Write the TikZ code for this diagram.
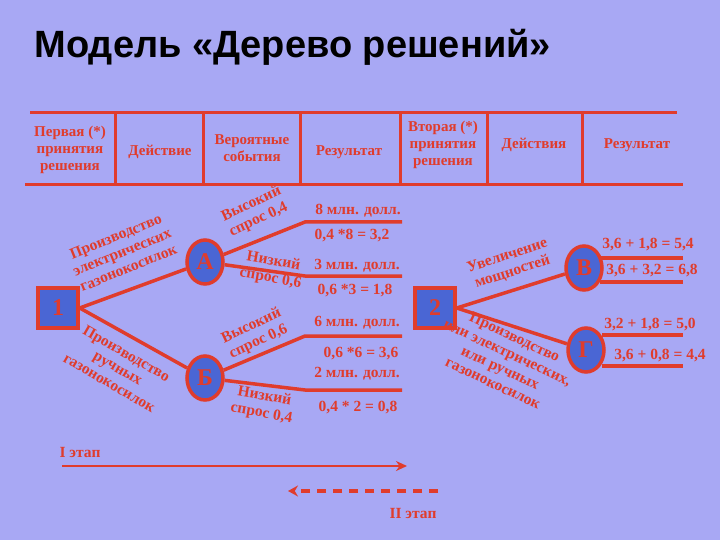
\documentclass[tikz,border=0pt]{standalone}
\usepackage{fontspec}
\setmainfont{Liberation Serif}
\newfontfamily\titlefont{Liberation Sans}
\usetikzlibrary{arrows.meta,shapes.geometric}
\definecolor{bg}{HTML}{A8A8F4}
\definecolor{rd}{HTML}{E03C2C}
\definecolor{nb}{HTML}{4A66D4}
\tikzset{
 ln/.style={rd,line width=3.5pt},
 tl/.style={rd,line width=3pt},
 lbl/.style={text=rd,font=\bfseries\fontsize{15.5}{17}\selectfont,align=center,inner sep=1pt},
 hd/.style={text=rd,font=\bfseries\fontsize{15}{17}\selectfont,align=center},
 sq/.style={draw=rd,line width=3.5pt,fill=nb,minimum width=40pt,minimum height=40pt,text=rd,font=\bfseries\fontsize{24}{24}\selectfont},
 cir/.style={draw=rd,line width=3.5pt,fill=nb,ellipse,minimum width=36pt,minimum height=44pt,text=rd,font=\bfseries\fontsize{24}{24}\selectfont,inner sep=0pt},
}
\begin{document}
\begin{tikzpicture}[x=1pt,y=-1pt]
\fill[bg] (0,0) rectangle (720,540);
\useasboundingbox (0,0) rectangle (720,540);
\node[anchor=west,font=\titlefont\bfseries\fontsize{38}{38}\selectfont] (title) at (31,47) {Модель «Дерево решений»};
% table
\draw[tl] (30,113) -- (677,113);
\draw[tl] (25,185) -- (683,185);
\foreach \x in {115,203,300,400,487,582} \draw[tl] (\x,113) -- (\x,185);
\node[hd] (h1) at (70,150) {Первая (*)\\принятия\\решения};
\node[hd] (h2) at (160,152) {Действие};
\node[hd] (h3) at (252,148) {Вероятные\\события};
\node[hd] (h4) at (349,152) {Результат};
\node[hd] (h5) at (443,145) {Вторая (*)\\принятия\\решения};
\node[hd] (h6) at (534,145) {Действия};
\node[hd] (h7) at (637,145) {Результат};
% nodes
\node[sq] (n1) at (58,308) {1};
\node[cir] (A) at (205,262) {А};
\node[cir] (B) at (205,378) {Б};
\node[sq] (n2) at (435,308) {2};
\node[cir] (V) at (584,268) {В};
\node[cir] (G) at (586,350) {Г};
\coordinate (a1) at (305,222); \coordinate (a1e) at (402,222);
\coordinate (a2) at (305,276); \coordinate (a2e) at (402,276);
\coordinate (b1) at (305,336); \coordinate (b1e) at (402,336);
\coordinate (b2) at (305,390); \coordinate (b2e) at (402,390);
\coordinate (v1) at (600,258); \coordinate (v1e) at (683,258);
\coordinate (v2) at (600,282); \coordinate (v2e) at (683,282);
\coordinate (g1) at (602,335); \coordinate (g1e) at (683,335);
\coordinate (g2) at (602,366); \coordinate (g2e) at (683,366);
\draw[ln] (n1.east) -- (A);
\draw[ln] (n1.east) -- (B);
\draw[ln] (A) -- (a1) -- (a1e);
\draw[ln] (A) -- (a2) -- (a2e);
\draw[ln] (B) -- (b1) -- (b1e);
\draw[ln] (B) -- (b2) -- (b2e);
\draw[ln] (n2.east) -- (V);
\draw[ln] (n2.east) -- (G);
\draw[ln] (v1) -- (v1e); \draw[ln] (v2) -- (v2e);
\draw[ln] (g1) -- (g1e); \draw[ln] (g2) -- (g2e);
% result texts
\node[lbl] (t1) at (358,211) {8 млн. долл.};
\node[lbl] (t2) at (352,236) {0,4 *8 = 3,2};
\node[lbl] (t3) at (357,266) {3 млн. долл.};
\node[lbl] (t4) at (355,291) {0,6 *3 = 1,8};
\node[lbl] (t5) at (357,323) {6 млн. долл.};
\node[lbl] (t6) at (361,354) {0,6 *6 = 3,6};
\node[lbl] (t7) at (357,374) {2 млн. долл.};
\node[lbl] (t8) at (358,408) {0,4 * 2 = 0,8};
\node[lbl] (r1) at (648,245) {3,6 + 1,8 = 5,4};
\node[lbl] (r2) at (652,271) {3,6 + 3,2 = 6,8};
\node[lbl] (r3) at (650,325) {3,2 + 1,8 = 5,0};
\node[lbl] (r4) at (660,356) {3,6 + 0,8 = 4,4};
% branch labels
\node[lbl,rotate=25] (e1) at (255,212) {Высокий\\спрос 0,4};
\node[lbl,rotate=-10] (e2) at (272,270) {Низкий\\спрос 0,6};
\node[lbl,rotate=25] (e3) at (255,334) {Высокий\\спрос 0,6};
\node[lbl,rotate=-10] (e4) at (263,405) {Низкий\\спрос 0,4};
\node[lbl,rotate=22] (d1) at (122,252) {Производство\\электрических\\газонокосилок};
\node[lbl,rotate=-30] (d2) at (118,368) {Производство\\ручных\\газонокосилок};
\node[lbl,rotate=18] (d3) at (510,264) {Увеличение\\мощностей};
\node[lbl,rotate=-25] (d4) at (504,360) {Производство\\или электрических,\\или ручных\\газонокосилок};
% stages
\node[lbl] (s1) at (80,452) {I этап};
\coordinate (s1a) at (62,466); \coordinate (s1b) at (407,466);
\draw[rd,line width=2pt,-{Stealth[length=11pt,width=10pt]}] (s1a) -- (s1b);
\coordinate (s2a) at (438,491); \coordinate (s2b) at (288,491);
\draw[rd,line width=3.5pt,dash pattern=on 9pt off 7pt,-{Stealth[length=10pt,width=11pt]}] (s2a) -- (s2b);
\node[lbl] (s2) at (413,513) {II этап};
\end{tikzpicture}
\end{document}
